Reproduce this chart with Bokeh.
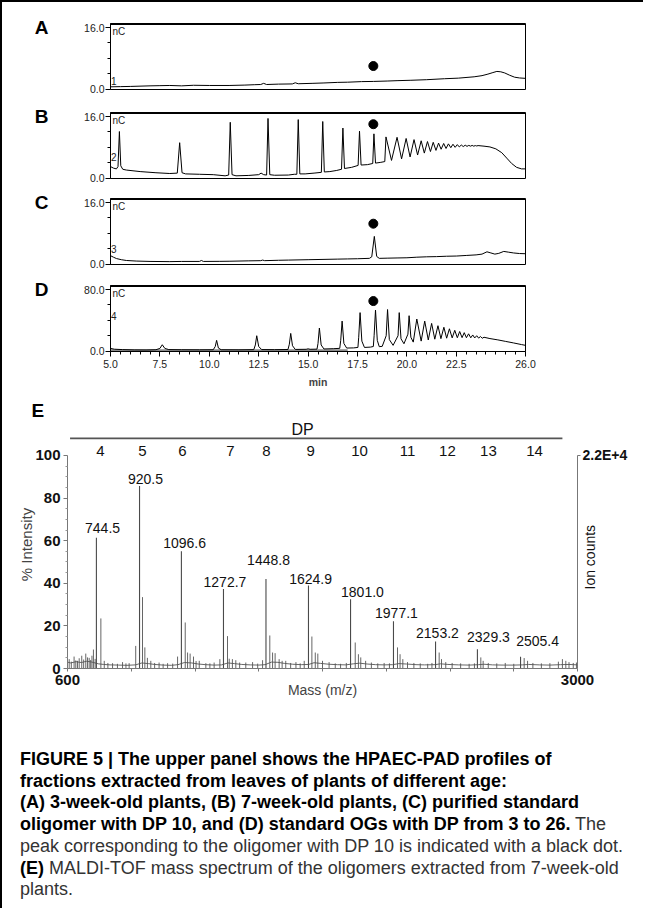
import math
from bokeh.plotting import figure
from bokeh.models import Range1d, FixedTicker, LinearAxis, PrintfTickFormatter, Span, Div
from bokeh.layouts import column
from bokeh.embed import file_html
from bokeh.resources import INLINE
from bokeh.core.properties import value

# ---------------- data: HPAEC-PAD chromatograms (time in min, signal in nC) -------------
a_trace = [(5.0, 0.6), (5.5, 0.65), (6.0, 0.7), (7.0, 0.85), (7.5, 0.9), (8.0, 0.95), (8.6, 0.85),
           (9.2, 1.0), (10.0, 0.95), (11.0, 0.95), (11.8, 1.05), (12.3, 1.15), (12.6, 1.2), (12.75, 1.5),
           (12.9, 1.2), (13.5, 1.3), (14.2, 1.35), (14.35, 1.65), (14.5, 1.4), (15.2, 1.5), (15.8, 1.6),
           (16.5, 1.75), (17.0, 1.8), (17.7, 1.95), (18.3, 2.0), (19.0, 2.1), (19.5, 2.2), (20.2, 2.3),
           (21.0, 2.45), (21.9, 2.7), (22.6, 2.85), (23.4, 3.2), (23.8, 3.5), (24.1, 3.9), (24.35, 4.3),
           (24.55, 4.6), (24.75, 4.5), (24.95, 4.2), (25.2, 3.6), (25.45, 3.1), (25.7, 2.9), (26.0, 2.8)]

b_trace = [(5.0, 3.0), (5.15, 2.6), (5.3, 2.4), (5.38, 3.0), (5.45, 12.1), (5.52, 3.2), (5.62, 2.3),
           (5.8, 2.1), (6.5, 1.7), (7.3, 1.4), (8.0, 1.2), (8.38, 1.3), (8.5, 9.2), (8.62, 1.4), (8.8, 1.1),
           (9.5, 1.0), (10.2, 0.9), (10.8, 0.6), (10.98, 0.8), (11.06, 14.5), (11.15, 0.9), (11.35, 0.6),
           (12.0, 0.7), (12.5, 0.9), (12.62, 1.3), (12.75, 0.9), (12.9, 0.8), (12.97, 15.5), (13.06, 0.9),
           (13.3, 0.75), (14.0, 0.8), (14.3, 1.0), (14.43, 1.0), (14.5, 15.2), (14.58, 1.1), (14.85, 1.1),
           (15.3, 1.3), (15.67, 1.5), (15.74, 14.7), (15.82, 1.6), (16.1, 1.7), (16.45, 2.0), (16.69, 2.3),
           (16.76, 13.0), (16.84, 2.5), (17.2, 2.8), (17.53, 3.3), (17.6, 12.2), (17.68, 3.4), (18.0, 3.5),
           (18.27, 3.8), (18.33, 11.5), (18.41, 3.9), (18.68, 4.1), (18.88, 4.3), (18.94, 10.7),
           (19.22, 4.6), (19.5, 10.6), (19.73, 5.0), (19.96, 10.3), (20.16, 5.5), (20.36, 10.0),
           (20.54, 6.0), (20.72, 9.7), (20.88, 6.5), (21.04, 9.5), (21.19, 6.9), (21.33, 9.3),
           (21.47, 7.2), (21.6, 9.1), (21.73, 7.5), (21.86, 9.0), (21.98, 7.7), (22.1, 8.9), (22.22, 7.9),
           (22.33, 8.8), (22.44, 8.0), (22.55, 8.7), (22.65, 8.1), (22.75, 8.6), (22.85, 8.2),
           (22.95, 8.55), (23.04, 8.25), (23.13, 8.5), (23.22, 8.3), (23.3, 8.5), (23.38, 8.3),
           (23.46, 8.45), (23.53, 8.35), (23.6, 8.45), (23.9, 8.3), (24.2, 8.1), (24.5, 7.6), (24.8, 6.6),
           (25.05, 5.2), (25.3, 3.8), (25.55, 2.8), (25.8, 2.4), (26.0, 2.4)]

c_trace = [(5.0, 2.2), (5.15, 1.8), (5.3, 1.45), (5.55, 1.15), (5.8, 0.95), (6.3, 0.8), (7.0, 0.7),
           (8.0, 0.65), (8.6, 0.7), (9.5, 0.7), (9.6, 0.95), (9.7, 0.7), (10.5, 0.72), (11.0, 0.75),
           (12.0, 0.85), (12.6, 0.9), (12.7, 1.05), (12.8, 0.9), (13.5, 1.0), (14.0, 1.05), (15.0, 1.15),
           (15.5, 1.2), (16.5, 1.3), (17.0, 1.35), (17.5, 1.4), (18.1, 1.5), (18.22, 1.9), (18.35, 7.2),
           (18.47, 2.0), (18.6, 1.5), (19.0, 1.55), (19.5, 1.6), (20.0, 1.65), (20.5, 1.8), (21.0, 1.9),
           (21.5, 1.95), (22.0, 2.05), (22.5, 2.1), (23.0, 2.25), (23.5, 2.4), (23.8, 2.6), (24.05, 3.2),
           (24.25, 2.9), (24.45, 2.6), (24.65, 2.8), (24.9, 3.3), (25.15, 3.1), (25.4, 2.9), (25.7, 2.75),
           (26.0, 2.7)]

d_trace = [(5.0, 3.5), (5.2, 2.5), (5.6, 2.0), (6.2, 1.6), (6.8, 1.5), (7.3, 1.8), (7.5, 3.5),
           (7.62, 8.3), (7.75, 3.5), (7.95, 2.0), (8.6, 1.8), (9.5, 1.7), (10.2, 1.8), (10.3, 6.0),
           (10.37, 14.0), (10.46, 4.0), (10.6, 1.8), (11.5, 1.7), (12.25, 1.9), (12.33, 8.0), (12.4, 20.0),
           (12.5, 6.0), (12.65, 2.0), (13.3, 1.9), (13.98, 2.1), (14.05, 9.0), (14.12, 23.0), (14.21, 7.0),
           (14.35, 2.2), (14.9, 2.4), (15.0, 3.0), (15.1, 2.4), (15.45, 2.6), (15.5, 10.0), (15.57, 30.0),
           (15.66, 8.0), (15.8, 2.8), (16.3, 3.2), (16.6, 3.6), (16.65, 14.0), (16.72, 39.0), (16.81, 10.0),
           (16.95, 4.0), (17.3, 4.2), (17.52, 4.8), (17.56, 18.0), (17.63, 50.0), (17.72, 13.0),
           (17.85, 4.8), (18.15, 5.2), (18.3, 6.0), (18.34, 20.0), (18.41, 53.3), (18.5, 14.0),
           (18.6, 5.8), (18.75, 6.2), (18.95, 20.0), (19.02, 54.0), (19.11, 15.0), (19.3, 7.5),
           (19.55, 20.0), (19.61, 50.0), (19.7, 16.0), (19.85, 9.6), (20.05, 22.0), (20.11, 46.0),
           (20.2, 18.0), (20.32, 11.7), (20.5, 41.7), (20.72, 13.0), (20.9, 39.0), (21.08, 14.5),
           (21.25, 36.0), (21.41, 15.5), (21.57, 33.0), (21.72, 16.2), (21.87, 31.0), (22.01, 16.8),
           (22.15, 29.0), (22.29, 17.2), (22.42, 27.0), (22.55, 17.4), (22.67, 25.5), (22.79, 17.5),
           (22.9, 24.0), (23.01, 17.4), (23.12, 22.5), (23.23, 17.3), (23.33, 21.0), (23.43, 17.1),
           (23.53, 20.0), (23.63, 16.9), (23.72, 19.0), (23.81, 16.7), (23.9, 18.0), (24.2, 16.3),
           (24.6, 14.6), (25.0, 12.6), (25.4, 10.6), (25.8, 8.5), (26.0, 7.5)]

d_blank = [(5.0, 1.0), (17.0, 1.0)]

dp10_time = 18.3
dp10_dot = [6.0, 14.0, 10.5, 65.0]        # marker heights in panels A-D
panel_letters = ["A", "B", "C", "D"]
trace_numbers = ["1", "2", "3", "4"]
trace_number_y = [2.0, 5.6, 3.8, 9.0]
d_xticks = [5.0, 7.5, 10.0, 12.5, 15.0, 17.5, 20.0, 22.5, 26.0]

# ---------------- data: MALDI-TOF spectrum -------------------------------------------------
ms_peak_pos = [736, 939, 1136, 1334, 1534, 1734, 1932, 2134, 2332, 2529, 2732]
ms_peak_height = [61.4, 85.7, 55.0, 37.3, 42.0, 38.9, 32.5, 22.2, 12.7, 9.0, 5.5]
ms_peak_label = ["744.5", "920.5", "1096.6", "1272.7", "1448.8", "1624.9", "1801.0",
                 "1977.1", "2153.2", "2329.3", "2505.4"]
ms_label_pos = [765, 967, 1151, 1341, 1546, 1744, 1988, 2148, 2341, 2581, 2812]
ms_label_height = [65.9, 88.9, 58.7, 40.5, 50.8, 42.1, 36.0, 26.2, 16.7, 14.6, 12.7]

ms_minor = [(608, 4.4), (618, 3.2), (631, 5.6), (639, 3.8), (647, 3.6), (655, 4.8), (667, 6.0),
            (676, 4.2), (686, 7.0), (694, 5.2), (702, 5.0), (709, 4.0), (715, 6.0), (722, 8.9),
            (730, 4.5), (757, 23.5), (773, 3.6), (790, 2.6), (812, 2.5), (835, 2.2), (859, 3.0),
            (875, 2.4), (890, 2.5), (921, 10.6), (953, 33.5), (964, 9.9), (976, 5.0), (992, 3.6),
            (1010, 2.6), (1031, 2.8), (1050, 2.2), (1071, 2.5), (1095, 2.3), (1118, 5.6), (1154, 21.6),
            (1165, 7.5), (1177, 7.0), (1193, 5.6), (1205, 3.5), (1220, 3.6), (1251, 2.5), (1270, 2.4),
            (1290, 2.8), (1317, 4.4), (1353, 15.2), (1361, 4.6), (1376, 4.4), (1392, 3.9), (1410, 2.8),
            (1439, 2.8), (1471, 3.0), (1495, 2.3), (1518, 3.9), (1552, 15.5), (1565, 7.5), (1577, 7.2),
            (1596, 4.4), (1610, 3.6), (1627, 3.6), (1650, 2.6), (1675, 3.0), (1695, 2.4), (1714, 3.6),
            (1750, 15.0), (1766, 7.5), (1778, 7.0), (1800, 3.6), (1831, 3.0), (1860, 2.4), (1885, 2.2),
            (1912, 2.6), (1954, 12.2), (1969, 6.7), (1980, 5.2), (2003, 3.6), (2030, 2.8), (2060, 2.4),
            (2090, 2.6), (2115, 2.4), (2153, 9.9), (2165, 6.7), (2178, 4.4), (2200, 3.0), (2230, 2.6),
            (2260, 2.4), (2295, 2.2), (2315, 2.6), (2349, 7.5), (2360, 4.4), (2380, 3.0), (2410, 2.6),
            (2450, 2.4), (2490, 2.2), (2515, 2.4), (2545, 5.2), (2556, 3.6), (2580, 2.6), (2620, 2.4),
            (2660, 2.6), (2700, 2.2), (2749, 4.9), (2765, 3.6), (2790, 2.6), (2830, 2.4), (2870, 2.5),
            (2910, 3.2), (2929, 4.4), (2945, 3.6), (2960, 3.0), (2980, 2.6), (2995, 2.8)]

ms_baseline = [(600, 3.0), (615, 2.6), (640, 3.2), (665, 2.8), (690, 3.4), (715, 3.0), (745, 2.2),
               (770, 1.9), (800, 1.7), (840, 1.6), (880, 1.5), (920, 1.7), (950, 2.6), (980, 2.3),
               (1010, 1.9), (1050, 1.6), (1090, 1.5), (1120, 1.8), (1150, 2.8), (1185, 2.6), (1215, 2.1),
               (1250, 1.8), (1290, 1.6), (1325, 1.7), (1355, 2.6), (1385, 2.3), (1420, 1.9), (1460, 1.7),
               (1500, 1.6), (1530, 1.8), (1560, 3.0), (1590, 2.9), (1620, 2.4), (1660, 2.0), (1700, 1.8),
               (1735, 1.9), (1760, 2.7), (1790, 2.4), (1830, 2.0), (1870, 1.8), (1910, 1.7), (1945, 2.2),
               (1975, 2.5), (2010, 2.1), (2050, 1.8), (2090, 1.7), (2130, 1.8), (2160, 2.3), (2195, 2.1),
               (2240, 1.8), (2280, 1.7), (2330, 1.8), (2355, 2.2), (2390, 1.9), (2440, 1.7), (2490, 1.6),
               (2535, 1.8), (2560, 2.0), (2600, 1.7), (2650, 1.6), (2700, 1.6), (2740, 1.7), (2770, 1.9),
               (2820, 1.7), (2870, 1.6), (2920, 1.8), (2960, 1.9), (3000, 1.7)]

dp_labels = ["4", "5", "6", "7", "8", "9", "10", "11", "12", "13", "14"]
dp_pos = [755, 953, 1141, 1367, 1536, 1744, 1974, 2200, 2388, 2581, 2798]
ms_yticks = [0, 20, 40, 60, 80, 100]
ms_xticks = [600, 3000]
ion_count_max = 22000

# ---------------- styles -------------------------------------------------------------------
SANS = "Liberation Sans"
W = 631
CH_LEFT, CH_FRAME_W = 108, 415
CH_FRAME_H = 66


def unzip(pairs):
    return [p[0] for p in pairs], [p[1] for p in pairs]


def chrom_panel(height, top, bottom, ymax, trace, idx, xaxis=False, blank=None):
    y0, y1 = -0.006 * ymax, 1.065 * ymax
    ppu = CH_FRAME_H / (y1 - y0)
    p = figure(width=W, height=height, output_backend="svg", toolbar_location=None,
               x_range=Range1d(5.0, 26.0), y_range=Range1d(y0, y1),
               min_border_left=CH_LEFT, min_border_right=W - CH_LEFT - CH_FRAME_W,
               min_border_top=top, min_border_bottom=bottom, frame_align=False,
               x_axis_location="below" if xaxis else None)
    p.grid.visible = False
    p.outline_line_color = "black"
    p.outline_line_width = 1
    p.add_layout(Span(location=y1 - 0.8 / ppu, dimension="width", line_color="black", line_width=1.6))
    if blank is not None:
        bt, by = unzip(blank)
        p.line(bt, by, line_color="#8a8a8a", line_width=2.2)
    tt, yy = unzip(trace)
    p.line(tt, yy, line_color="black", line_width=1.0)
    p.scatter([dp10_time], [dp10_dot[idx]], size=9, color="black")
    p.text(x=[5.1], y=[y1 - 2.5 / ppu], text=["nC"], text_font=value(SANS), text_font_size="10px",
           text_baseline="top", text_align="left", text_color="#222")
    p.text(x=[5.03], y=[trace_number_y[idx] * ymax / 16.0], text=[trace_numbers[idx]],
           text_font=value(SANS), text_font_size="10px", text_baseline="middle",
           text_align="left", text_color="#222")
    ya = p.yaxis[0]
    ya.ticker = FixedTicker(ticks=[0, ymax], minor_ticks=[ymax * 0.25, ymax * 0.5, ymax * 0.75])
    ya.formatter = PrintfTickFormatter(format="%.1f")
    ya.major_label_text_font = SANS
    ya.major_label_text_font_size = "10.5px"
    ya.major_label_text_color = "#222"
    ya.major_tick_in = 0
    ya.major_tick_out = 5
    ya.minor_tick_in = 0
    ya.minor_tick_out = 3
    ya.major_label_standoff = 1
    ya.axis_line_color = "black"
    # panel letter, drawn as the single label of an outer left axis
    letter_y = round(y1 - 4.0 / ppu, 3)
    la = LinearAxis(ticker=FixedTicker(ticks=[letter_y]),
                    major_label_overrides={letter_y: panel_letters[idx]})
    la.axis_line_color = None
    la.major_tick_line_color = None
    la.minor_tick_line_color = None
    la.major_tick_out = 0
    la.major_label_standoff = 33
    la.major_label_text_font = SANS
    la.major_label_text_font_style = "bold"
    la.major_label_text_font_size = "19px"
    la.major_label_text_color = "#000"
    p.add_layout(la, "left")
    if xaxis:
        xa = p.xaxis[0]
        minors = [5.0 + 0.5 * k for k in range(1, 42)]
        xa.ticker = FixedTicker(ticks=d_xticks, minor_ticks=[m for m in minors if m not in d_xticks])
        xa.formatter = PrintfTickFormatter(format="%.1f")
        xa.major_label_text_font = SANS
        xa.major_label_text_font_size = "10.5px"
        xa.major_label_text_color = "#222"
        xa.major_tick_in = 0
        xa.major_tick_out = 5
        xa.minor_tick_in = 0
        xa.minor_tick_out = 3
        xa.major_label_standoff = 3
        xa.axis_label = "min"
        xa.axis_label_text_font = SANS
        xa.axis_label_text_font_size = "10.5px"
        xa.axis_label_text_font_style = "bold"
        xa.axis_label_standoff = 5
        xa.axis_line_color = "black"
    return p


pA = chrom_panel(97, 21, 10, 16.0, a_trace, 0)
pB = chrom_panel(89, 13, 10, 16.0, b_trace, 1)
pC = chrom_panel(86, 10, 10, 16.0, c_trace, 2)
pD = chrom_panel(118, 11, 41, 80.0, d_trace, 3, xaxis=True, blank=d_blank)

# ---------------- MALDI panel --------------------------------------------------------------
MS_LEFT, MS_FRAME_W = 65, 510
MS_TOP = 116.4
pE = figure(width=W, height=311, output_backend="svg", toolbar_location=None,
            x_range=Range1d(600, 3000), y_range=Range1d(0, MS_TOP), frame_align=False,
            min_border_left=MS_LEFT, min_border_right=W - MS_LEFT - MS_FRAME_W,
            min_border_top=28, min_border_bottom=35, title="E")
pE.grid.visible = False
pE.outline_line_color = None
pE.title.align = "left"
pE.title.offset = -36
pE.title.standoff = 0
pE.title.text_font = SANS
pE.title.text_font_style = "bold"
pE.title.text_font_size = "19px"
pE.title.text_color = "#000"

bx, by = unzip(ms_baseline)
pE.line(bx, by, line_color="#555555", line_width=0.9)
mx, mh = unzip(ms_minor)
pE.segment(x0=mx, y0=[0] * len(mx), x1=mx, y1=mh, line_color="#555555", line_width=0.9)
pE.segment(x0=ms_peak_pos, y0=[0] * len(ms_peak_pos), x1=ms_peak_pos, y1=ms_peak_height,
           line_color="#4a4a4a", line_width=1.1)
pE.text(x=ms_label_pos, y=ms_label_height, text=ms_peak_label, text_font=value(SANS),
        text_font_size="14px", text_align="center", text_baseline="middle", text_color="#111")

# DP scale above the spectrum
pE.line([612, 2929], [108.0, 108.0], line_color="#555555", line_width=1.8)
pE.text(x=dp_pos, y=102.3, text=dp_labels, text_font=value(SANS), text_font_size="15px",
        text_align="center", text_baseline="middle", text_color="#111")
pE.text(x=[1706], y=[112.2], text=["DP"], text_font=value(SANS), text_font_size="16px",
        text_align="center", text_baseline="middle", text_color="#111")

ly = pE.yaxis[0]
ly.ticker = FixedTicker(ticks=ms_yticks, minor_ticks=[v for v in range(5, 100, 5) if v % 20])
ly.bounds = (0, 100)
ly.major_label_text_font = SANS
ly.major_label_text_font_style = "bold"
ly.major_label_text_font_size = "15px"
ly.major_label_text_color = "#111"
ly.major_tick_in = 0
ly.major_tick_out = 4
ly.minor_tick_in = 0
ly.minor_tick_out = 2
ly.major_label_standoff = 3
ly.axis_line_color = "#777777"
ly.major_tick_line_color = "#777777"
ly.minor_tick_line_color = "#999999"
ly.axis_label = "% Intensity"
ly.axis_label_text_font = SANS
ly.axis_label_text_font_style = "normal"
ly.axis_label_text_font_size = "15px"
ly.axis_label_standoff = -3

lx = pE.xaxis[0]
lx.ticker = FixedTicker(ticks=ms_xticks, minor_ticks=list(range(900, 3000, 300)))
lx.major_label_text_font = SANS
lx.major_label_text_font_style = "bold"
lx.major_label_text_font_size = "15px"
lx.major_label_text_color = "#111"
lx.major_tick_in = 0
lx.major_tick_out = 3
lx.minor_tick_in = 0
lx.minor_tick_out = 3
lx.major_label_standoff = 3
lx.axis_line_color = "#777777"
lx.major_tick_line_color = "#777777"
lx.minor_tick_line_color = "#777777"
lx.axis_label = "Mass (m/z)"
lx.axis_label_text_font = SANS
lx.axis_label_text_font_style = "normal"
lx.axis_label_text_font_size = "14px"
lx.axis_label_standoff = -6

ions_top = ion_count_max * MS_TOP / 100.0
pE.extra_y_ranges = {"ions": Range1d(0, ions_top)}
ra = LinearAxis(y_range_name="ions", ticker=FixedTicker(ticks=[ion_count_max]),
                bounds=(0, ion_count_max), major_label_overrides={ion_count_max: "2.2E+4"})
ra.major_label_text_font = SANS
ra.major_label_text_font_style = "bold"
ra.major_label_text_font_size = "14px"
ra.major_label_text_color = "#111"
ra.major_tick_in = 0
ra.major_tick_out = 3
ra.major_label_standoff = 2
ra.axis_line_color = "#777777"
ra.major_tick_line_color = "#777777"
pE.add_layout(ra, "right")

# "Ion counts" title of the right scale: single rotated label of an outer right axis,
# anchored at its lower end
ion_label_at = round(ions_top * 79.0 / 248.0)
ia = LinearAxis(y_range_name="ions", ticker=FixedTicker(ticks=[ion_label_at]),
                major_label_overrides={ion_label_at: "Ion counts"})
ia.major_label_orientation = math.pi / 2
ia.axis_line_color = None
ia.major_tick_line_color = None
ia.minor_tick_line_color = None
ia.major_tick_out = 0
ia.major_label_standoff = -40
ia.major_label_text_font = SANS
ia.major_label_text_font_size = "14px"
ia.major_label_text_color = "#111"
pE.add_layout(ia, "right")

# ---------------- caption ------------------------------------------------------------------
caption_html = (
    '<div style="padding:41px 0 0 13px; font-family:\'Liberation Sans\', Arial, sans-serif; '
    'font-size:18px; line-height:21.7px; color:#333; white-space:nowrap;">'
    '<b style="color:#000">FIGURE 5 | The upper panel shows the HPAEC-PAD profiles of<br>'
    'fractions extracted from leaves of plants of different age:<br>'
    '(A) 3-week-old plants, (B) 7-week-old plants, (C) purified standard<br>'
    'oligomer with DP 10, and (D) standard OGs with DP from 3 to 26.</b> The<br>'
    'peak corresponding to the oligomer with DP 10 is indicated with a black dot.<br>'
    '<b style="color:#000">(E)</b> MALDI-TOF mass spectrum of the oligomers extracted from 7-week-old<br>'
    'plants.</div>'
)
caption = Div(text=caption_html, width=W, height=195)

layout = column(pA, pB, pC, pD, pE, caption, spacing=0,
                styles={"border-left": "2px solid #000", "border-top": "2px solid #000"})

open("out.html", "w").write(file_html(layout, INLINE))
